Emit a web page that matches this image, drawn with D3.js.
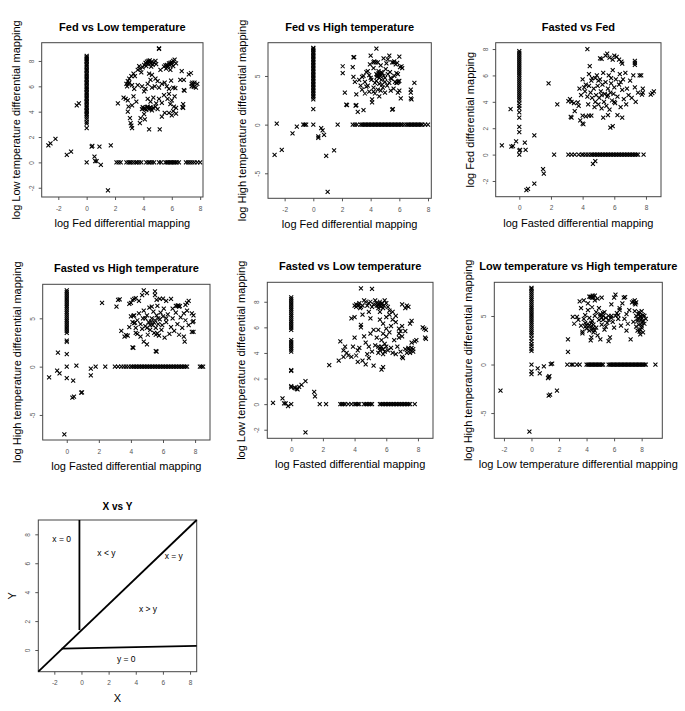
<!DOCTYPE html>
<html><head><meta charset="utf-8">
<style>body{margin:0;background:#fff} svg{font-family:"Liberation Sans",Arial,sans-serif}</style>
</head><body>
<svg width="685" height="711"></svg>
<script src="https://d3js.org/d3.v7.min.js"></script>
<script>

// ---- Fed vs Low temperature ----
var fedLowAtX0 = [0, 2.7, 3.05, 3.2, 3.4, 3.55, 3.7, 3.8, 3.95, 4.05, 4.15, 4.3, 4.4, 4.5, 4.65, 4.75, 4.85, 5.0, 5.1, 5.2, 5.35, 5.45, 5.55, 5.7, 5.8, 5.9, 6.0, 6.15, 6.25, 6.35, 6.5, 6.6, 6.7, 6.85, 6.95, 7.05, 7.2, 7.3, 7.4, 7.55, 7.65, 7.75, 7.9, 8.0, 8.1, 8.2, 8.3, 8.4];
var fedLowAtY0 = [2.1, 2.25, 2.4, 2.8, 2.95, 3.05, 3.15, 3.3, 3.45, 3.55, 3.7, 3.85, 4.2, 4.35, 4.45, 4.6, 4.75, 5.1, 5.25, 5.55, 5.65, 5.75, 5.85, 5.95, 6.05, 6.15, 6.25, 6.35, 6.5, 7.0, 7.15, 7.3, 7.45, 7.6, 7.8, 8.0];
var fedLowOther = [[-2.7,1.35],[-2.55,1.5],[-2.2,1.85],[-1.4,0.6],[-1.1,0.85],[-0.7,4.5],[-0.55,4.65],[0.35,1.25],[0.4,1.3],[0.55,0.45],[0.7,0.1],[0.6,0.1],[0.9,1.25],[1.0,-0.2],[1.7,1.35],[1.5,-2.2]];
var fedLowCloud = [[4.05,7.7],[4.15,7.85],[4.25,7.95],[4.3,7.75],[4.4,7.9],[4.45,8.05],[4.5,7.8],[4.6,7.95],[4.65,7.7],[4.75,7.85],[4.85,8.0],[4.9,7.75],[4.2,7.6],[4.55,7.55],[3.95,7.5],[5.1,9.0],[5.1,8.95],
  [5.45,7.55],[5.55,7.65],[5.65,7.7],[5.7,7.5],[5.8,7.8],[5.9,7.85],[6.0,7.9],[6.1,8.0],[6.2,8.1],[5.6,7.4],[6.1,7.6],[6.3,7.8],
  [3.6,7.3],[3.75,7.4],[3.7,7.6],[3.85,7.1],[3.3,7.0],[3.15,6.8],[3.0,6.6],[3.4,6.8],[4.4,7.0],[4.6,6.9],[4.85,6.6],[5.0,6.4],[4.5,6.5],[5.2,7.3],[5.9,7.3],[6.7,7.2],[7.2,6.95],[7.35,7.05],[6.6,6.5],[6.85,6.5],
  [2.8,6.2],[2.9,6.4],[2.85,6.0],[3.2,6.1],[3.35,5.8],[3.6,6.1],[3.9,6.0],[4.05,5.6],[4.15,5.8],[4.3,6.2],[4.6,5.9],[4.8,6.0],[5.1,5.9],[5.3,6.2],[5.5,6.3],[5.65,6.0],[5.8,5.8],[5.95,6.45],[6.1,5.9],[6.25,5.85],[6.85,5.7],[6.9,5.65],[7.5,6.1],[7.6,6.3],[7.7,5.9],[7.8,6.2],[7.4,6.0],
  [2.6,5.1],[2.75,5.0],[2.9,4.9],[2.2,4.65],[2.95,4.4],[2.9,4.0],[3.2,4.5],[3.3,5.2],[3.5,4.8],[3.9,4.2],[3.95,4.35],[4.0,4.25],[4.1,4.3],[4.2,4.15],[4.3,4.4],[4.4,4.2],[4.5,4.35],[4.6,4.1],[4.7,4.3],[4.85,4.4],[5.0,4.2],[4.3,5.0],[4.5,4.8],[4.7,5.1],[4.9,4.65],[5.1,5.0],[5.3,4.7],[5.45,5.3],[5.7,5.0],[5.9,4.6],[6.0,4.9],[6.15,4.4],[6.3,4.3],[6.8,4.3],[6.8,4.6],[6.75,4.35],[5.8,5.4],[6.2,5.2],
  [3.05,3.5],[3.1,3.1],[3.15,2.9],[3.2,2.7],[3.75,3.1],[3.8,3.5],[4.4,2.6],[5.15,2.6],[5.5,3.9],[5.3,3.6],[6.0,3.7],[6.1,4.05],[6.3,3.85],[5.8,3.9],[4.05,3.8],[4.1,3.4],
  [7.4,6.2],[7.45,6.3],[7.55,5.95],[4.1,4.2],[4.25,4.35],[4.45,4.3],[4.55,4.25],[4.2,7.8],[4.35,8.0],[4.55,7.85],[5.75,7.6],[5.85,7.7],[6.0,7.75],[3.0,6.3],[2.95,6.2]];

// ---- Fed vs High temperature ----
var fedHighAtX0 = [0, 1.6, 2.6, 2.8, 2.95, 3.1, 3.3, 3.45, 3.6, 3.75, 3.9, 4.05, 4.2, 4.35, 4.5, 4.65, 4.8, 4.95, 5.1, 5.25, 5.4, 5.55, 5.7, 5.85, 6.0, 6.15, 6.3, 6.45, 6.6, 6.75, 6.9, 7.05, 7.2, 7.35, 7.5, 7.65, 7.8, 7.9];
var fedHighAtY0 = [1.7, 2.75, 2.9, 3.05, 3.3, 3.4, 3.5, 3.6, 3.7, 3.8, 3.9, 4.0, 4.1, 4.2, 4.3, 4.4, 4.5, 4.6, 4.7, 4.8, 4.9, 5.0, 5.1, 5.2, 5.3, 5.4, 5.5, 5.6, 5.7, 5.8, 5.9, 6.0, 6.1, 6.2, 6.35, 6.5, 6.6, 6.7, 6.8, 6.9, 7.0, 7.1, 7.2, 7.3, 7.4, 7.5, 7.6, 7.8, 8.0];
var fedHighOther = [[-2.7,-3.1],[-2.55,0.1],[-2.2,-2.6],[-1.45,-0.9],[-1.15,-0.2],[-0.7,0],[-0.6,0],[-0.5,0],[0.35,-1.2],[0.35,-1.35],[0.55,-0.35],[0.65,-0.6],[0.75,-1.05],[0.9,-3.2],[1.0,-6.9],[1.45,-2.65]];
var fedHighCloud = [[2.05,6.0],[2.05,5.3],[2.2,3.3],[2.3,2.05],[2.35,2.0],[2.8,6.9],[2.85,6.95],[2.75,5.9],[2.8,4.9],[2.9,4.4],[3.0,3.1],[3.0,2.0],[2.95,1.95],[3.1,1.3],[3.5,1.5],
  [3.2,4.6],[3.3,4.0],[3.4,3.6],[3.5,5.0],[3.6,4.4],[3.6,3.2],[3.7,5.4],[3.8,5.5],[3.8,4.0],[3.9,3.4],[3.95,6.2],[4.0,7.1],[4.05,4.6],[4.1,2.6],[4.1,2.3],[4.2,3.8],[4.2,5.8],[4.25,6.5],[4.3,4.3],[4.3,3.2],[4.35,6.4],[4.4,7.8],[4.4,5.2],[4.45,4.9],[4.5,3.6],[4.5,6.4],[4.55,5.5],[4.6,4.2],[4.6,2.9],[4.65,5.0],[4.7,3.5],[4.7,6.1],[4.75,4.6],[4.8,5.3],[4.85,3.8],[4.9,6.8],[4.9,5.0],[5.0,4.4],[5.0,3.3],[5.05,5.7],[5.1,6.3],[5.15,4.0],[5.2,6.7],[5.3,7.1],[5.3,4.3],[5.35,5.4],[5.4,3.5],[5.45,4.7],[5.5,6.4],[5.55,1.6],[5.5,1.55],[5.6,6.4],[5.6,3.7],[5.65,5.0],[5.7,4.4],[5.75,6.2],[5.8,5.3],[5.85,4.3],[5.9,5.2],[5.9,3.3],[5.95,4.45],[6.0,7.0],[6.0,3.5],[6.05,5.9],[6.1,2.7],[6.15,6.0],[6.2,5.8],[6.8,3.6],[6.8,3.3],[6.8,2.7],[6.85,2.6],[7.05,4.3],[4.0,4.8],[3.7,3.9],[4.8,4.1],[5.0,4.8],[5.2,5.2],[4.4,4.5],[4.6,4.8],[5.4,4.8],[5.8,4.3],[4.2,3.4],[3.4,4.9],[3.9,5.1],
  [4.45,5.1],[4.55,5.3],[4.65,5.2],[4.75,5.4],[5.85,6.35],[5.65,6.5],[5.9,4.4],[6.0,4.5],[4.2,6.4]];

// ---- Fasted vs Fed ----
var fastedFedAtX0 = [0, 0.3, 1.7, 2.1, 2.8, 3.2, 3.5, 3.7, 3.9, 4.1, 4.25, 4.4, 4.55, 4.7, 4.85, 5.0, 5.15, 5.3, 5.45, 5.6, 5.75, 5.9, 6.05, 6.2, 6.35, 6.5, 6.65, 6.8, 6.95, 7.1, 7.25, 7.4, 7.55, 7.7, 7.85];
var fastedFedAtY0 = [2.2, 3.1, 3.3, 3.5, 3.75, 3.95, 4.05, 4.2, 4.35, 4.5, 4.6, 4.7, 4.8, 4.9, 5.0, 5.1, 5.2, 5.3, 5.4, 5.5, 5.6, 5.7, 5.8, 5.9, 6.0, 6.1, 6.2, 6.3, 6.4, 6.5, 6.6, 6.7, 6.8, 6.9, 7.0, 7.1, 7.2, 7.3, 7.4, 7.5, 7.85];
var fastedFedOther = [[-1.1,0.7],[-0.5,0.6],[-0.4,0.65],[-0.55,3.45],[-0.2,1.0],[0.05,0.35],[0.35,0.9],[0.4,0.35],[0.95,1.45],[1.5,-1.1],[1.55,-1.45],[0.95,-2.2],[0.55,-2.6],[0.45,-2.7],[1.85,5.4],[2.4,3.8],[4.65,-0.7],[4.8,-0.5]];
var fastedFedCloud = [[4.3,8.0],[4.45,6.7],[5.1,7.3],[5.45,7.5],[5.55,7.65],[5.9,7.2],[6.0,7.5],[6.15,7.4],[6.3,7.2],[6.45,7.05],[6.5,6.9],[7.3,6.95],[7.3,6.8],[7.3,7.1],[5.2,7.25],[5.7,7.35],
  [3.1,4.05],[3.2,4.2],[3.3,4.0],[3.45,3.9],[3.5,3.3],[3.7,3.95],[3.75,3.7],[3.3,2.8],[3.25,2.85],[3.85,2.6],[4.0,2.35],[4.05,2.3],[4.0,2.95],[4.2,2.9],[4.4,2.95],[4.55,2.95],[5.75,2.05],[5.9,2.15],[6.5,2.8],[5.3,2.8],[5.6,3.0],[6.2,3.0],
  [4.0,5.7],[4.1,5.1],[4.15,4.8],[4.2,5.3],[4.3,4.4],[4.35,3.8],[4.4,6.1],[4.5,4.7],[4.55,5.6],[4.6,4.3],[4.7,5.0],[4.75,3.6],[4.8,5.8],[4.85,4.5],[4.9,6.0],[4.95,5.2],[5.0,3.8],[5.05,4.3],[5.1,5.7],[5.15,4.8],[5.2,3.5],[5.25,5.3],[5.3,6.2],[5.35,4.0],[5.4,4.6],[5.45,5.5],[5.5,3.7],[5.55,4.4],[5.6,5.0],[5.65,6.0],[5.7,3.4],[5.75,4.7],[5.8,5.4],[5.85,4.1],[5.9,6.4],[5.95,4.6],[6.0,5.1],[6.05,3.9],[6.1,5.7],[6.2,4.4],[6.3,5.3],[6.35,6.1],[6.4,3.6],[6.5,4.9],[6.55,5.7],[6.6,4.2],[6.7,6.2],[6.75,3.8],[6.8,5.0],[6.9,4.5],[7.0,5.6],[7.1,4.3],[7.2,6.0],[7.3,5.1],[7.35,4.0],[7.5,4.7],[7.6,6.0],[7.7,6.0],[7.8,5.0],[7.8,4.7],[7.75,4.55],[8.3,4.55],[8.4,4.65],[8.5,4.8],[3.8,5.0],[3.9,4.5],[4.4,5.2],[5.0,5.6],[5.2,4.5],[4.8,4.0],[5.6,4.5],[6.0,4.0],[6.4,5.5],[4.6,5.8],[5.8,5.8]];

// ---- Fasted vs High temperature ----
var fastedHighAtX0 = [-1.2, 0, 1.3, 2.55, 2.7, 3.5, 3.7, 3.9, 4.1, 4.3, 4.5, 4.7, 4.9, 5.1, 5.3, 5.5, 5.7, 5.9, 6.1, 6.3, 6.5, 6.7, 6.9, 7.1, 7.3, 7.5, 7.7, 7.9];
var fastedHighAtY0 = [1.8, 2.4, 3.0, 3.2, 3.4, 3.55, 3.7, 3.85, 4.0, 4.1, 4.2, 4.3, 4.4, 4.5, 4.6, 4.7, 4.8, 4.9, 5.0, 5.1, 5.2, 5.3, 5.4, 5.5, 5.6, 5.7, 5.8, 5.9, 6.0, 6.1, 6.2, 6.3, 6.4, 6.5, 6.6, 6.7, 6.8, 6.9, 7.0, 7.1, 7.2, 7.3, 7.4, 7.5, 8.3, 8.4, 8.5];
var fastedHighOther = [[-1.1,-1.1],[-0.55,1.45],[-0.6,-0.4],[-0.45,-0.7],[0.6,0.1],[0.4,-1.45],[0.35,-3.2],[0.45,-3.1],[0.9,-2.7],[0.95,-2.65],[1.5,-0.2],[1.5,-0.9],[-0.15,-7.0],[2.2,6.6]];
var fastedHighCloud = [[3.1,6.2],[3.2,6.9],[3.3,6.95],[3.4,3.7],[3.6,3.1],[3.7,3.25],[3.8,3.2],[4.1,2.0],[4.15,1.95],[4.8,2.6],[5.0,2.3],[5.55,1.6],[5.6,1.55],[4.8,7.9],[5.5,7.8],[5.5,7.4],
  [3.9,6.5],[4.0,6.6],[4.1,6.9],[4.2,7.0],[4.3,7.1],[4.5,6.8],[4.7,7.4],[5.0,7.6],[5.3,6.2],[5.6,6.9],[5.8,7.0],[6.0,7.05],[6.2,6.8],[6.5,7.0],[6.8,6.3],[7.0,6.2],[7.4,6.4],[7.5,6.6],[6.6,6.0],
  [4.0,5.2],[4.1,4.6],[4.2,5.3],[4.3,4.0],[4.3,3.5],[4.4,3.4],[4.5,5.5],[4.6,4.4],[4.7,3.9],[4.75,5.0],[4.8,5.8],[4.9,4.2],[5.0,5.3],[5.05,3.3],[5.1,4.6],[5.15,6.1],[5.2,3.8],[5.3,5.0],[5.35,4.3],[5.4,5.7],[5.45,3.5],[5.5,4.8],[5.55,4.0],[5.6,5.3],[5.65,6.3],[5.7,4.4],[5.75,3.2],[5.8,4.9],[5.85,5.6],[5.9,3.8],[5.95,4.3],[6.0,5.2],[6.05,6.0],[6.1,3.0],[6.2,4.6],[6.3,5.4],[6.4,3.4],[6.5,4.1],[6.6,5.0],[6.7,3.7],[6.8,5.6],[6.9,4.4],[7.0,3.3],[7.1,5.1],[7.2,4.0],[7.3,5.5],[7.35,2.6],[7.3,3.1],[7.4,4.8],[7.5,5.8],[7.6,4.3],[7.8,3.6],[7.9,3.6],[7.85,4.6],[7.9,5.3],[7.8,5.5],[7.9,4.7],[4.4,4.8],[4.9,5.0],[5.2,4.3],[5.7,5.0],[5.0,4.0],[6.2,5.0],[4.6,3.1],[3.9,4.1],[4.2,4.5],[6.9,6.3],[7.6,6.8],
  [4.15,5.25],[4.25,4.55],[5.25,4.65],[5.45,4.55],[5.55,3.3],[5.65,3.45],[6.95,6.35],[7.05,6.25]];

// ---- Fasted vs Low temperature ----
var fastedLowAtX0 = [0, 1.3, 1.4, 2.6, 2.65, 4.1, 4.25, 4.4, 4.55, 4.7, 4.85, 5.0, 5.8, 5.95, 6.1, 6.25, 6.4, 6.55, 6.7, 6.85, 7.0, 7.15, 7.3, 7.45, 7.6, 7.75, 7.9, 8.05, 8.2, 8.35];
var fastedLowAtY0 = [1.8, 2.2, 3.1, 3.2, 3.3, 3.4, 3.6, 3.8, 4.0, 4.1, 4.2, 4.3, 4.6, 4.7, 4.8, 4.9, 5.0, 5.1, 5.6, 5.7, 5.8, 5.9, 6.0, 6.1, 6.2, 6.3, 6.4, 6.5, 6.6, 6.7, 6.8, 6.9, 7.0, 7.1, 7.2, 7.3, 7.4, 7.5, 7.8];
var fastedLowOther = [[-1.15,0.1],[-0.55,0.45],[-0.45,0.05],[-0.35,0.05],[-0.2,-0.15],[0.2,1.3],[0.25,1.25],[0.35,1.2],[0.4,1.15],[0.5,1.35],[0.65,1.5],[0.9,1.8],[1.45,0.95],[1.5,0.6],[0.9,-2.2],[2.4,3.05],[3.0,3.4]];
var fastedLowCloud = [[4.4,9.05],[5.1,9.0],
  [4.0,7.7],[4.1,7.8],[4.2,7.7],[4.3,7.9],[4.4,7.6],[4.6,8.1],[4.7,8.0],[4.8,7.7],[4.9,7.9],[5.0,8.0],[5.1,7.6],[5.2,7.8],[5.3,8.1],[5.4,7.9],[5.5,7.7],[5.6,8.0],[5.7,7.8],[5.8,7.5],[5.9,8.1],[6.1,7.6],[6.4,7.2],[6.6,6.9],[7.0,7.8],[7.2,7.5],[7.3,7.7],[7.4,7.6],[6.2,7.3],[5.6,7.2],
  [3.8,6.7],[4.0,6.8],[4.4,6.0],[4.4,6.2],[4.9,7.2],[4.5,7.0],[5.0,6.7],[5.6,6.6],[5.8,6.3],[6.0,6.8],[6.3,6.1],[6.6,6.4],[6.8,5.9],[7.0,6.1],[7.2,5.7],[7.6,6.5],[7.5,6.3],[8.3,6.0],[8.4,5.9],[8.5,5.8],[8.5,5.1],[8.45,5.2],
  [3.1,4.9],[3.3,4.2],[3.4,4.5],[3.5,4.0],[3.6,3.8],[3.8,3.7],[3.9,4.5],[4.0,5.2],[4.1,3.8],[4.2,4.2],[4.3,4.4],[4.6,5.3],[4.7,4.8],[4.8,3.9],[4.9,4.5],[5.0,5.5],[5.1,4.1],[5.2,5.8],[5.3,4.6],[5.4,5.2],[5.5,4.0],[5.6,4.4],[5.7,5.0],[5.8,3.9],[5.9,4.7],[6.0,5.3],[6.1,4.2],[6.2,5.6],[6.3,4.4],[6.4,4.0],[6.5,5.0],[6.6,3.9],[6.7,4.5],[6.8,5.2],[6.9,4.1],[7.0,3.7],[7.05,3.6],[7.2,4.3],[7.3,4.0],[7.4,4.4],[7.5,4.2],[7.6,4.8],[7.7,4.3],[7.8,4.9],[7.9,5.0],[5.5,5.8],[6.0,5.9],[5.8,5.5],
  [3.3,3.7],[4.2,3.3],[4.5,3.4],[4.7,3.1],[5.2,3.0],[5.7,2.7],[5.8,2.9],[4.9,3.6],
  [4.1,7.6],[4.25,7.75],[4.35,7.5],[4.5,7.7],[5.4,7.7],[5.55,7.85],[5.65,7.6],[5.75,7.9],[5.85,7.7],[5.5,7.5],[6.0,7.9],[6.2,7.0],[6.4,6.6],[7.4,4.3],[7.5,4.0],[7.6,4.4],[7.7,4.1],[5.6,4.2],[5.7,4.5],[5.8,4.3],[5.9,4.1],[6.0,4.5],[5.5,4.5],[6.8,5.5],[6.9,5.7],[7.0,5.3]];

// ---- Low temperature vs High temperature ----
var lowHighAtX0 = [-1.0, -0.7, 0, 1.4, 1.6, 1.9, 2.1, 2.4, 2.7, 3.0, 3.2, 3.4, 3.6, 3.8, 4.0, 4.2, 4.4, 4.6, 4.8, 5.0, 5.2, 5.4, 5.6, 5.8, 6.0, 6.2, 6.4, 6.6, 6.8, 7.0, 7.2, 7.4, 7.6, 7.8, 7.9];
var lowHighAtY0 = [2.6, 2.9, 3.0, 3.3, 3.5, 4.0, 4.1, 4.2, 4.3, 4.4, 4.5, 4.6, 4.7, 4.8, 4.9, 5.0, 5.1, 5.2, 5.6, 5.7, 5.8, 5.9, 6.0, 6.1, 6.2, 6.3, 6.4, 6.5, 6.6, 6.7, 6.8, 6.9, 7.0, 7.1, 7.2, 7.3, 7.4, 7.5, 7.6, 7.7, 7.8, 7.9, 8.0, 8.1, 8.2, 8.3, 9.0];
var lowHighOther = [[-2.25,-2.7],[-0.15,-6.9],[0.45,-0.4],[0.6,-0.9],[0.9,-0.2],[1.2,-1.4],[1.3,-1.2],[1.25,-1.3],[1.4,0.05],[1.5,0.1],[1.25,-3.2],[1.35,-3.1],[1.85,-2.7],[2.65,1.3],[2.65,2.6]];
var lowHighCloud = [[3.0,4.9],[3.1,4.2],[3.4,4.6],[3.5,6.5],[3.6,4.0],[3.7,3.2],[3.7,3.4],[3.8,6.6],[3.9,5.1],[3.9,4.3],[4.0,3.7],[4.1,6.3],[4.1,5.6],[4.2,4.8],[4.2,3.5],[4.3,7.0],[4.3,2.5],[4.35,2.8],[4.4,6.9],[4.4,5.9],[4.5,4.1],[4.5,3.3],[4.6,6.6],[4.6,7.1],[4.7,5.4],[4.7,3.8],[4.8,6.8],[4.8,3.0],[4.9,4.6],[5.0,5.2],[5.0,2.6],[5.1,6.9],[5.1,4.1],[5.2,5.0],[5.3,3.6],[5.3,5.4],[5.4,4.8],[5.5,4.3],[5.6,2.4],[5.7,2.8],[5.6,5.0],[5.8,6.2],[5.9,4.4],[6.0,6.9],[6.0,3.8],[6.1,7.2],[6.2,5.3],[6.3,4.7],[6.4,5.8],[6.5,4.0],[6.6,6.3],[6.7,6.9],[6.8,6.95],[6.75,4.7],[6.9,5.2],[6.9,3.5],[7.0,4.2],[7.1,5.6],[7.2,2.6],[7.3,6.4],[7.4,6.5],[7.5,6.6],[7.4,4.4],[7.5,5.5],[7.6,3.9],[7.6,5.0],[7.7,4.7],[7.7,3.5],[7.8,5.4],[7.8,4.1],[7.9,4.9],[8.0,3.8],[8.0,5.5],[8.1,4.5],[8.1,3.3],[8.2,4.2],[8.2,5.0],[8.3,4.7],[7.9,3.1],[6.4,5.6],[5.8,5.0],[4.0,4.0],[3.8,4.7],[4.4,4.5],[4.6,5.0],[5.2,4.6],[5.4,3.9],[4.9,5.8],[3.6,5.8],[3.3,4.9],
  [4.2,7.0],[4.3,6.95],[4.45,7.1],[4.5,6.9],[7.5,6.3],[7.6,6.4],[7.55,6.2],[7.8,5.2],[7.9,5.0],[8.0,4.8],[7.95,4.6],[8.05,4.3],[8.0,4.0],[7.9,3.6],[7.85,3.4],[8.1,5.1],[7.7,4.5],[4.1,4.2],[4.2,4.0],[4.3,3.9],[4.4,3.6],[4.5,3.8],[4.6,3.5],[4.35,4.3],[3.9,3.9],[5.0,5.0],[5.1,4.8],[5.2,5.3],[5.6,4.6],[5.8,4.8],[6.3,5.1],[6.1,5.0]];

// ---- X vs Y schematic ----
var xyDiagonal = [[-3.18,-1.5],[8.49,8.99]];
var xyVertical = [[-0.15,8.99],[-0.15,1.38]];
var xyHorizontal = [[-1.46,0.1],[8.49,0.28]];
var xyRegions = [["x = 0",-1.46,7.7],["x < y",1.84,6.7],["x = y",6.8,6.5],["x > y",4.9,2.8],["y = 0",3.3,-0.6]];

var svg = d3.select("svg");

var panels = [
  {title:"Fed vs Low temperature", xlab:"log Fed differential mapping", ylab:"log Low temperature differential mapping",
   l:41.7, r:203, t:42.7, b:197, xd:[-3.17,8.2], yd:[-2.73,9.44], xt:[-2,0,2,4,6,8], yt:[-2,0,2,4,6,8],
   atX0:fedLowAtX0, atY0:fedLowAtY0, other:fedLowOther, cloud:fedLowCloud},
  {title:"Fed vs High temperature", xlab:"log Fed differential mapping", ylab:"log High temperature differential mapping",
   l:268, r:431.3, t:42.7, b:198.3, xd:[-3.16,8.23], yd:[-7.57,8.42], xt:[-2,0,2,4,6,8], yt:[-5,0,5],
   atX0:fedHighAtX0, atY0:fedHighAtY0, other:fedHighOther, cloud:fedHighCloud},
  {title:"Fasted vs Fed", xlab:"log Fasted differential mapping", ylab:"log Fed differential mapping",
   l:495.7, r:661, t:42.7, b:196.7, xd:[-1.49,8.95], yd:[-3.19,8.48], xt:[0,2,4,6,8], yt:[-2,0,2,4,6,8],
   atX0:fastedFedAtX0, atY0:fastedFedAtY0, other:fastedFedOther, cloud:fastedFedCloud},
  {title:"Fasted vs High temperature", xlab:"log Fasted differential mapping", ylab:"log High temperature differential mapping",
   l:42.7, r:210, t:284.3, b:440, xd:[-1.5,8.93], yd:[-7.59,8.52], xt:[0,2,4,6,8], yt:[-5,0,5],
   atX0:fastedHighAtX0, atY0:fastedHighAtY0, other:fastedHighOther, cloud:fastedHighCloud},
  {title:"Fasted vs Low temperature", xlab:"log Fasted differential mapping", ylab:"log Low temperature differential mapping",
   l:267.3, r:433, t:282.3, b:438.3, xd:[-1.51,8.95], yd:[-2.67,9.52], xt:[0,2,4,6,8], yt:[-2,0,2,4,6,8],
   atX0:fastedLowAtX0, atY0:fastedLowAtY0, other:fastedLowOther, cloud:fastedLowCloud},
  {title:"Low temperature vs High temperature", xlab:"log Low temperature differential mapping", ylab:"log High temperature differential mapping",
   l:494.3, r:662.3, t:282.3, b:438.3, xd:[-2.7,9.5], yd:[-7.6,8.47], xt:[-2,0,2,4,6,8], yt:[-5,0,5],
   atX0:lowHighAtX0, atY0:lowHighAtY0, other:lowHighOther, cloud:lowHighCloud}
];

function frame(p, titleSize, titleGap) {
  var x = d3.scaleLinear().domain(p.xd).range([p.l, p.r]);
  var y = d3.scaleLinear().domain(p.yd).range([p.b, p.t]);
  var g = svg.append("g");

  var xa = g.append("g").attr("transform", "translate(0," + p.b + ")")
      .call(d3.axisBottom(x).tickValues(p.xt).tickSize(3).tickPadding(6).tickFormat(String));
  xa.select(".domain").remove();
  xa.selectAll("line").attr("stroke", "#555");
  xa.selectAll("text").attr("fill", "#555").style("font-size", "6.5px").style("font-family", "inherit");

  var ya = g.append("g").attr("transform", "translate(" + p.l + ",0)")
      .call(d3.axisLeft(y).tickValues(p.yt).tickSize(3).tickFormat(String));
  ya.select(".domain").remove();
  ya.selectAll("line").attr("stroke", "#555");
  ya.selectAll("text")
      .attr("x", 0).attr("y", -8).attr("dy", 0)
      .attr("text-anchor", "middle")
      .attr("transform", "rotate(-90)")
      .attr("fill", "#555").style("font-size", "6.5px").style("font-family", "inherit");

  g.append("rect")
      .attr("x", p.l).attr("y", p.t)
      .attr("width", p.r - p.l).attr("height", p.b - p.t)
      .attr("fill", "none").attr("stroke", "#444").attr("stroke-width", 1);

  g.append("text")
      .attr("x", (p.l + p.r) / 2).attr("y", p.t - titleGap)
      .attr("text-anchor", "middle")
      .attr("font-weight", "bold").attr("font-size", titleSize)
      .text(p.title);

  g.append("text")
      .attr("x", (p.l + p.r) / 2).attr("y", p.b + 30)
      .attr("text-anchor", "middle").attr("font-size", 11)
      .text(p.xlab);

  g.append("text")
      .attr("transform", "translate(" + (p.l - 22) + "," + ((p.t + p.b) / 2) + ") rotate(-90)")
      .attr("text-anchor", "middle").attr("font-size", 11)
      .text(p.ylab);

  return {g: g, x: x, y: y};
}

var cross = "M-2,-2L2,2M-2,2L2,-2";

panels.forEach(function(p) {
  var f = frame(p, 11, 12);
  var pts = p.atX0.map(function(v) { return [0, v]; })
    .concat(p.atY0.map(function(v) { return [v, 0]; }), p.other, p.cloud);
  f.g.append("g").selectAll("path")
      .data(pts)
    .enter().append("path")
      .attr("transform", function(d) { return "translate(" + f.x(d[0]) + "," + f.y(d[1]) + ")"; })
      .attr("d", cross)
      .attr("fill", "none")
      .attr("stroke", "#000")
      .attr("stroke-width", 1.05);
});

// schematic panel
var xy = frame({title:"X vs Y", xlab:"X", ylab:"Y",
   l:38.3, r:196.7, t:520, b:671.7, xd:[-3.18,8.49], yd:[-1.5,8.99], xt:[-2,0,2,4,6,8], yt:[0,2,4,6,8]}, 10, 10);

var seg = d3.line().x(function(d) { return xy.x(d[0]); }).y(function(d) { return xy.y(d[1]); });
[xyDiagonal, xyVertical, xyHorizontal].forEach(function(s) {
  xy.g.append("path")
      .attr("d", seg(s))
      .attr("fill", "none")
      .attr("stroke", "#000")
      .attr("stroke-width", 1.8);
});

xy.g.selectAll(".region")
    .data(xyRegions)
  .enter().append("text")
    .attr("x", function(d) { return xy.x(d[1]); })
    .attr("y", function(d) { return xy.y(d[2]); })
    .attr("dy", "0.35em")
    .attr("text-anchor", "middle")
    .attr("font-size", 8.5)
    .text(function(d) { return d[0]; });

</script>
</body></html>
